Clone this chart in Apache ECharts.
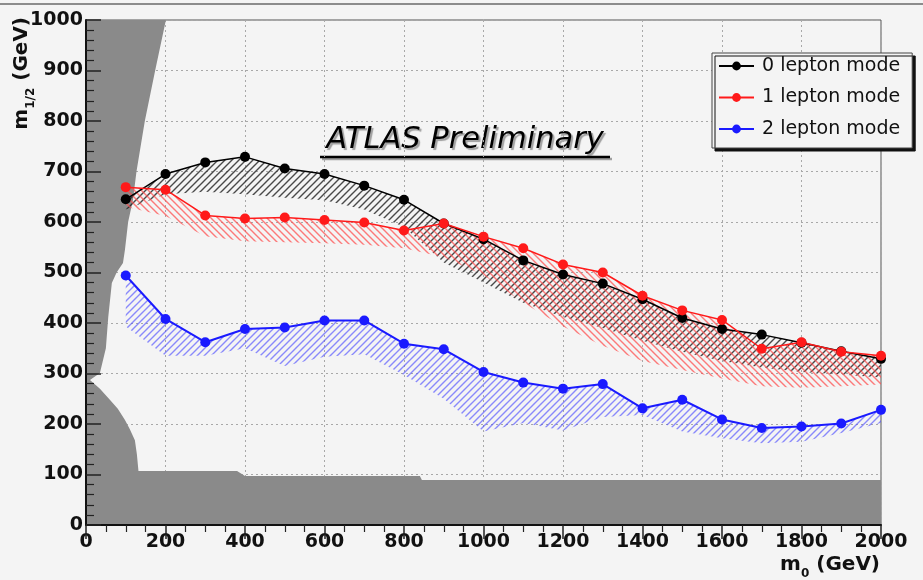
<!DOCTYPE html>
<html><head><meta charset="utf-8">
<script src="https://cdn.jsdelivr.net/npm/echarts@6/dist/echarts.min.js"></script>
<style>html,body{margin:0;padding:0;background:#f4f4f4}#c{width:923px;height:580px}</style>
</head><body><div id="c"></div>
<script>
// ---- data ----
const m0 = [100,200,300,400,500,600,700,800,900,1000,1100,1200,1300,1400,1500,1600,1700,1800,1900,2000];
const lep0 = [645,695,718,729,706,695,672,644,597,566,524,496,478,447,410,388,377,361,344,329];
const lep1 = [669,664,613,607,609,604,599,583,597,571,548,516,500,454,425,406,349,362,343,335];
const lep2 = [494,408,362,388,391,405,405,359,348,303,282,270,279,231,248,209,192,195,201,228];
const lep0Low = [625,655,660,655,648,643,625,590,520,480,440,412,390,365,343,325,312,303,298,292];
const lep1Low = [630,612,572,562,560,558,555,548,530,495,440,393,355,325,307,290,275,272,275,278];
const lep2Low = [393,335,335,350,315,333,338,297,250,185,202,187,214,218,185,172,162,165,182,202];
const exclX = [0,2000,2000,845,840,400,380,132,128,123,110,98,80,60,35,10,35,50,56,65,77,93,98,106,118,127,148,174,201,0];
const exclY = [0,0,89,89,97,97,107,107,140,168,190,208,230,248,270,287,301,350,412,479,500,519,545,600,643,700,800,900,1000,1000];
const names = ['0 lepton mode','1 lepton mode','2 lepton mode'];
const xTicks = {min:0,max:2000,interval:200};
const yTicks = {min:0,max:1000,interval:100};

function hatch(color, dir){
  const s=7, c=document.createElement('canvas'); c.width=c.height=s;
  const g=c.getContext('2d'); g.strokeStyle=color; g.lineWidth=1.4; g.beginPath();
  if(dir>0){ g.moveTo(-1,s+1); g.lineTo(s+1,-1); g.moveTo(-1,1); g.lineTo(1,-1); g.moveTo(s-1,s+1); g.lineTo(s+1,s-1); }
  else { g.moveTo(-1,-1); g.lineTo(s+1,s+1); g.moveTo(-1,s-1); g.lineTo(1,s+1); g.moveTo(s-1,-1); g.lineTo(s+1,1); }
  g.stroke(); return c;
}
function band(hi, lo, pat){
  return {type:'custom', z:1, clip:true, silent:true, data:[0],
    renderItem:(p, api)=>{
      const pts=[];
      for(let i=0;i<m0.length;i++) pts.push(api.coord([m0[i],hi[i]]));
      for(let i=m0.length-1;i>=0;i--) pts.push(api.coord([m0[i],lo[i]]));
      return {type:'polygon', shape:{points:pts}, style:{fill:{image:pat,repeat:'repeat'}, stroke:null}};
    }};
}
function line(name, vals, color, w){
  return {type:'line', name, z:5, data:m0.map((x,i)=>[x,vals[i]]), symbol:'circle', symbolSize:10,
    lineStyle:{color, width:w}, itemStyle:{color}, color};
}
const font='DejaVu Sans';
const plain = v => String(v);
const tickAxisX = {type:'value', ...xTicks, z:10, axisLine:{show:true,lineStyle:{color:'#111',width:2}},
  axisTick:{inside:true,length:14,lineStyle:{color:'#222',width:1.5}},
  minorTick:{show:true,splitNumber:4,length:7,lineStyle:{color:'#222',width:1.2}},
  axisLabel:{show:false}, splitLine:{show:false}};
const tickAxisY = {type:'value', ...yTicks, z:10, position:'left', axisLine:{show:true,lineStyle:{color:'#111',width:2}},
  axisTick:{inside:true,length:15,lineStyle:{color:'#222',width:1.5}},
  minorTick:{show:true,splitNumber:5,length:8,lineStyle:{color:'#222',width:1.2}},
  axisLabel:{show:false}, splitLine:{show:false}};

const chart = echarts.init(document.getElementById('c'));
chart.setOption({
  backgroundColor:'#f4f4f4',
  animation:false,
  grid:{left:86,right:42,top:20,bottom:55,show:true,borderColor:'#555',borderWidth:1,backgroundColor:'#f4f4f4'},
  xAxis:[{type:'value', ...xTicks, axisLine:{show:false}, axisTick:{show:false},
      axisLabel:{fontFamily:font,fontWeight:'bold',fontSize:19,color:'#111',margin:8,formatter:plain},
      splitLine:{show:true,lineStyle:{color:'#a8a8a8',type:[2,3],width:1}}}, tickAxisX],
  yAxis:[{type:'value', ...yTicks, axisLine:{show:false}, axisTick:{show:false},
      axisLabel:{fontFamily:font,fontWeight:'bold',fontSize:19,color:'#111',margin:3,formatter:plain},
      splitLine:{show:true,lineStyle:{color:'#a8a8a8',type:[2,3],width:1}}}, tickAxisY],
  legend:{data:names, orient:'vertical', left:712, top:53, itemWidth:35, itemHeight:11, itemGap:7.5,
    padding:[1,12,7,6], backgroundColor:'#f4f4f4', borderColor:'#444', borderWidth:1,
    shadowColor:'#111', shadowOffsetX:3, shadowOffsetY:3, shadowBlur:0,
    textStyle:{fontFamily:font,fontSize:19,color:'#111',lineHeight:24,padding:[0,0,0,3]}},
  series:[
    {type:'custom', z:1, silent:true, clip:true, data:[0],
      renderItem:(p,api)=>({type:'polygon', shape:{points:exclX.map((x,i)=>api.coord([x,exclY[i]]))},
        style:{fill:'#8a8a8a',stroke:null}})},
    band(lep0, lep0Low, hatch('rgba(30,30,30,0.8)', 1)),
    band(lep1, lep1Low, hatch('rgba(255,80,80,0.75)', -1)),
    band(lep2, lep2Low, hatch('rgba(80,80,255,0.65)', 1)),
    line(names[0], lep0, '#000000', 1.5),
    line(names[1], lep1, '#ff1a1a', 1.5),
    line(names[2], lep2, '#1a1aff', 2)
  ],
  graphic:[
    {type:'rect', shape:{x:0,y:3,width:923,height:2}, style:{fill:'#8c8c8c'}},
    {type:'text', x:465, y:140, style:{text:'ATLAS Preliminary', fontFamily:font, fontStyle:'italic', fontSize:30.5,
      fill:'#000', align:'center', verticalAlign:'middle', textShadowColor:'rgba(0,0,0,0.35)', textShadowOffsetX:2, textShadowOffsetY:2, textShadowBlur:1}},
    {type:'line', shape:{x1:320,y1:157,x2:610,y2:157}, style:{stroke:'#000',lineWidth:2.5, shadowColor:'rgba(0,0,0,0.35)', shadowOffsetX:2, shadowOffsetY:2}},
    {type:'text', x:22, y:17, rotation:Math.PI/2, style:{text:'{a|m}{b|1/2}{a| (GeV)}', align:'right', verticalAlign:'middle',
      rich:{a:{fontFamily:font,fontWeight:'bold',fontSize:20,fill:'#111',lineHeight:30,verticalAlign:'middle'},
            b:{fontFamily:font,fontWeight:'bold',fontSize:12,fill:'#111',lineHeight:13,verticalAlign:'bottom'}}}},
    {type:'text', x:880, y:565, style:{text:'{a|m}{b|0}{a| (GeV)}', align:'right', verticalAlign:'middle',
      rich:{a:{fontFamily:font,fontWeight:'bold',fontSize:20,fill:'#111',lineHeight:30,verticalAlign:'middle'},
            b:{fontFamily:font,fontWeight:'bold',fontSize:12,fill:'#111',lineHeight:13,verticalAlign:'bottom'}}}}
  ]
});
</script></body></html>
